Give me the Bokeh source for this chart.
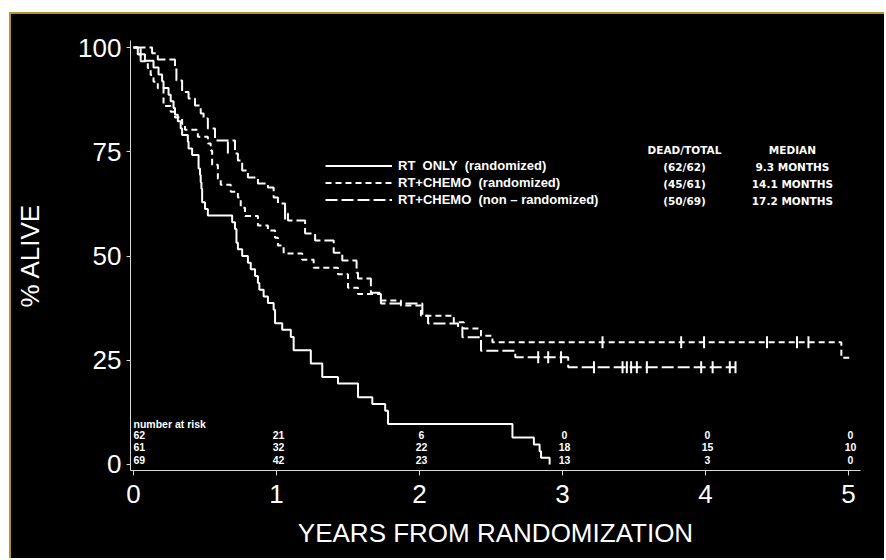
import math
from bokeh.plotting import figure
from bokeh.models import Range1d, Legend, LegendItem, FixedTicker
from bokeh.core.properties import value
from bokeh.embed import file_html
from bokeh.resources import INLINE

# ---------------- data (years, % alive) ----------------
rt_t = [0, 0.03, 0.08, 0.14, 0.175, 0.20, 0.21, 0.245, 0.26, 0.28, 0.29, 0.31, 0.33, 0.34,
        0.38, 0.385, 0.41, 0.455, 0.465, 0.47, 0.475, 0.48, 0.50, 0.52, 0.69, 0.71, 0.72,
        0.73, 0.76, 0.80, 0.82, 0.85, 0.87, 0.88, 0.91, 0.94, 0.98, 0.99, 1.04, 1.10, 1.12,
        1.24, 1.32, 1.43, 1.57, 1.67, 1.76, 1.78, 2.65, 2.80, 2.84, 2.85, 2.91]
rt_s = [100, 98.4, 96.8, 95.2, 93.5, 91.9, 90.3, 88.7, 87.1, 85.5, 83.9, 82.3, 80.6, 79.0,
        77.4, 75.8, 74.2, 71.0, 69.4, 67.7, 66.1, 62.9, 61.3, 59.7, 58.1, 56.5, 53.2,
        51.6, 50.0, 48.4, 46.8, 45.2, 43.5, 41.9, 40.3, 38.7, 37.1, 33.9, 32.3, 30.6, 27.4,
        24.2, 21.0, 19.4, 16.1, 14.5, 12.9, 9.7, 6.5, 4.8, 3.2, 1.6, 0]

rand_t = [0, 0.03, 0.05, 0.10, 0.12, 0.14, 0.17, 0.21, 0.26, 0.29, 0.34, 0.36, 0.45, 0.52,
          0.54, 0.55, 0.59, 0.61, 0.68, 0.73, 0.75, 0.78, 0.87, 0.94, 0.99, 1.01, 1.05, 1.18,
          1.26, 1.43, 1.50, 1.57, 1.73, 1.87, 2.01, 2.24, 2.31, 2.43, 2.51, 4.95, 5.01]
rand_s = [100, 98.4, 96.7, 95.1, 93.4, 91.8, 90.2, 86.0, 84.6, 83.2, 81.7, 80.3, 78.6, 77.0,
          75.3, 71.9, 68.5, 67.1, 65.4, 64.0, 61.6, 59.6, 57.3, 56.1, 54.4, 52.5, 50.6, 49.1,
          47.2, 45.6, 42.4, 40.9, 39.3, 38.1, 35.7, 34.1, 32.6, 30.9, 29.3, 25.6, 25.6]

non_t = [0, 0.13, 0.17, 0.29, 0.30, 0.34, 0.385, 0.43, 0.47, 0.49, 0.52, 0.57, 0.71, 0.73,
         0.76, 0.80, 0.87, 0.94, 0.98, 1.01, 1.06, 1.08, 1.20, 1.27, 1.40, 1.46, 1.56, 1.57,
         1.66, 1.73, 2.02, 2.06, 2.27, 2.30, 2.43, 2.67, 3.04, 4.21]
non_s = [100, 98.6, 97.1, 95.0, 92.1, 89.3, 87.8, 86.1, 84.2, 83.0, 80.6, 77.7, 74.6, 72.9,
         70.5, 68.8, 67.4, 66.4, 64.0, 62.6, 60.2, 58.5, 55.4, 53.7, 50.8, 48.9, 46.0, 44.6,
         41.2, 38.6, 35.7, 33.8, 32.9, 30.5, 27.3, 25.7, 23.3, 23.3]

rand_cens_t = [0.05, 3.28, 3.83, 3.99, 4.43, 4.64, 4.72]
rand_cens_s = [98.4, 29.3, 29.3, 29.3, 29.3, 29.3, 29.3]
non_cens_t = [0.66, 1.06, 2.83, 2.90, 2.99, 3.22, 3.42, 3.45, 3.48, 3.52, 3.59, 3.97, 4.05, 4.17, 4.21]
non_cens_s = [76.0, 60.2, 25.7, 25.7, 25.7, 23.3, 23.3, 23.3, 23.3, 23.3, 23.3, 23.3, 23.3, 23.3, 23.3]

series_labels = ["RT\u00a0 ONLY\u00a0 (randomized)",
                 "RT+CHEMO\u00a0 (randomized)",
                 "RT+CHEMO\u00a0 (non \u2013 randomized)"]
dead_total = ["(62/62)", "(45/61)", "(50/69)"]
medians = ["9.3 MONTHS", "14.1 MONTHS", "17.2 MONTHS"]

risk_years = [0, 1, 2, 3, 4, 5]
risk_rt = [62, 21, 6, 0, 0, 0]
risk_rand = [61, 32, 22, 18, 15, 10]
risk_non = [69, 42, 23, 13, 3, 0]

x_ticks = [0, 1, 2, 3, 4, 5]
y_ticks = [0, 25, 50, 75, 100]

# ---------------- figure ----------------
p = figure(width=875, height=546, output_backend="svg", toolbar_location=None,
           x_range=Range1d(-0.021, 5.084), y_range=Range1d(-1.44, 101.68),
           min_border_left=119, min_border_right=26, min_border_top=26, min_border_bottom=90,
           background_fill_color="black", border_fill_color="black")
p.outline_line_color = None
p.margin = (12, 0, 0, 9)
p.styles = {"border-top": "2px solid #b8941e", "border-left": "2px solid #b8941e",
            "background-color": "black"}
p.grid.visible = False

for ax in (p.xaxis[0], p.yaxis[0]):
    ax.axis_line_color = "#d8d8d8"
    ax.axis_line_width = 1
    ax.major_tick_line_color = "#d8d8d8"
    ax.major_tick_in = 0
    ax.minor_tick_line_color = None
    ax.major_label_text_color = "white"
    ax.major_label_text_font = "Liberation Sans"
    ax.major_label_text_font_size = "26px"
    ax.axis_label_text_color = "white"
    ax.axis_label_text_font = "Liberation Sans"
    ax.axis_label_text_font_size = "26px"
    ax.axis_label_text_font_style = "normal"

p.xaxis.ticker = FixedTicker(ticks=x_ticks)
p.yaxis.ticker = FixedTicker(ticks=y_ticks)
p.xaxis.major_tick_out = 5
p.yaxis.major_tick_out = 4
p.xaxis.major_label_standoff = 9
p.yaxis.major_label_standoff = 5
p.xaxis.axis_label = "YEARS FROM RANDOMIZATION"
p.yaxis.axis_label = "% ALIVE"
p.xaxis.axis_label_standoff = 12
p.yaxis.axis_label_standoff = 30

r_rt = p.step(rt_t, rt_s, mode="after", line_color="white", line_width=2)
r_rand = p.step(rand_t, rand_s, mode="after", line_color="white", line_width=2, line_dash="6 4")
r_non = p.step(non_t, non_s, mode="after", line_color="white", line_width=2, line_dash="12 4")

p.scatter(rand_cens_t, rand_cens_s, marker="dash", angle=math.pi / 2, size=12,
          line_color="white", line_width=2)
p.scatter(non_cens_t, non_cens_s, marker="dash", angle=math.pi / 2, size=12,
          line_color="white", line_width=2)

legend = Legend(items=[LegendItem(label=series_labels[0], renderers=[r_rt]),
                       LegendItem(label=series_labels[1], renderers=[r_rand]),
                       LegendItem(label=series_labels[2], renderers=[r_non])],
                location=(195, 262), orientation="vertical",
                glyph_width=67, glyph_height=17, label_height=17, spacing=0,
                padding=0, margin=0, label_standoff=6,
                background_fill_alpha=0, border_line_alpha=0,
                label_text_color="white", label_text_font="Liberation Sans",
                label_text_font_style="bold", label_text_font_size="13px",
                label_text_baseline="alphabetic")
p.add_layout(legend)

# statistics block
stat_font = dict(text_color="white", text_font=value("DejaVu Sans"), text_font_style="bold",
                 text_font_size="10.5px", text_align="center", text_baseline="middle")
p.text(x=[3.853], y=[75.5], text=["DEAD/TOTAL"], **stat_font)
p.text(x=[4.608], y=[75.5], text=["MEDIAN"], **stat_font)
p.text(x=[3.853] * 3, y=[71.4, 67.3, 63.3], text=dead_total, **stat_font)
p.text(x=[4.608] * 3, y=[71.4, 67.3, 63.3], text=medians, **stat_font)

# number at risk
risk_font = dict(text_color="white", text_font=value("Liberation Sans"), text_font_style="bold",
                 text_font_size="10.5px", text_baseline="middle")
p.text(x=[0], y=[9.8], text=["number at risk"], text_align="left", **risk_font)
row_y = [7.0, 4.1, 1.0]
for yy, row in zip(row_y, [risk_rt, risk_rand, risk_non]):
    p.text(x=risk_years[:1], y=[yy], text=[str(row[0])], text_align="left", **risk_font)
    p.text(x=risk_years[1:], y=[yy] * 5, text=[str(v) for v in row[1:]],
           text_align="center", x_offset=2, **risk_font)

open("out.html", "w").write(file_html(p, INLINE))
